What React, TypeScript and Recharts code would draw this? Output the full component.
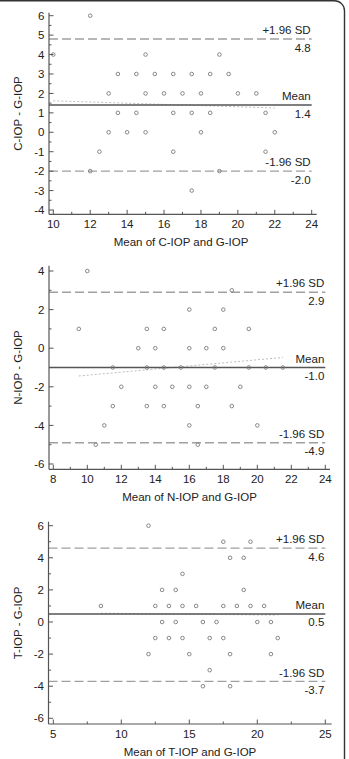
import React from 'react';
import { ComposedChart, Scatter, XAxis, YAxis, ReferenceLine } from 'recharts';

const FONT = '"Liberation Sans", Arial, Helvetica, sans-serif';
const TEXT = '#222';
const AXIS = '#555';

// ---- C-IOP vs G-IOP ----
const cMeans = [12, 10, 15, 19, 13.5, 14.5, 15.5, 16.5, 17.5, 18.5, 19.5, 13, 15, 16, 17, 18, 20, 21, 13.5, 14.5, 16.5, 17.5, 18.5, 21.5, 13, 14, 15, 18, 22, 12.5, 16.5, 21.5, 12, 19, 17.5];
const cDiffs = [6, 4, 4, 4, 3, 3, 3, 3, 3, 3, 3, 2, 2, 2, 2, 2, 2, 2, 1, 1, 1, 1, 1, 1, 0, 0, 0, 0, 0, -1, -1, -1, -2, -2, -3];
const cLimits = [4.8, 1.4, -2.0]; // +1.96 SD, mean, -1.96 SD
const cTrendX = [10, 22];
const cTrendY = [1.62, 1.25];
const cXMajor = [10, 12, 14, 16, 18, 20, 22, 24];
const cXMinor = [11, 13, 15, 17, 19, 21, 23];
const cYMajor = [-4, -3, -2, -1, 0, 1, 2, 3, 4, 5, 6];
const cYMinor = [-3.5, -2.5, -1.5, -0.5, 0.5, 1.5, 2.5, 3.5, 4.5, 5.5];

// ---- N-IOP vs G-IOP ----
const nMeans = [10, 18.5, 16, 18, 9.5, 13.5, 14.5, 17.5, 19.5, 13, 14, 16, 17, 18, 11.5, 13.5, 14.5, 15.5, 17.5, 19.5, 20.5, 21.5, 12, 14, 15, 16, 17, 19, 11.5, 13.5, 14.5, 16.5, 18.5, 11, 16, 20, 10.5, 16.5];
const nDiffs = [4, 3, 2, 2, 1, 1, 1, 1, 1, 0, 0, 0, 0, 0, -1, -1, -1, -1, -1, -1, -1, -1, -2, -2, -2, -2, -2, -2, -3, -3, -3, -3, -3, -4, -4, -4, -5, -5];
const nLimits = [2.9, -1.0, -4.9];
const nTrendX = [9.5, 21.5];
const nTrendY = [-1.44, -0.48];
const nXMajor = [8, 10, 12, 14, 16, 18, 20, 22, 24];
const nXMinor = [9, 11, 13, 15, 17, 19, 21, 23];
const nYMajor = [-6, -4, -2, 0, 2, 4];
const nYMinor = [-5, -3, -1, 1, 3];

// ---- T-IOP vs G-IOP ----
const tMeans = [12, 17.5, 19.5, 18, 19, 14.5, 13, 14, 19, 8.5, 12.5, 13.5, 14.5, 15.5, 17.5, 18.5, 19.5, 20.5, 13, 14, 16, 17, 20, 21, 12.5, 13.5, 14.5, 16.5, 17.5, 21.5, 12, 15, 18, 21, 16.5, 16, 18];
const tDiffs = [6, 5, 5, 4, 4, 3, 2, 2, 2, 1, 1, 1, 1, 1, 1, 1, 1, 1, 0, 0, 0, 0, 0, 0, -1, -1, -1, -1, -1, -1, -2, -2, -2, -2, -3, -4, -4];
const tLimits = [4.6, 0.5, -3.7];
const tTrendX = [8.5, 21.5];
const tTrendY = [0.55, 0.43];
const tXMajor = [5, 10, 15, 20, 25];
const tXMinor = [7.5, 12.5, 17.5, 22.5];
const tYMajor = [-6, -4, -2, 0, 2, 4, 6];
const tYMinor = [-5, -3, -1, 1, 3, 5];

type Panel = {
  top: number;
  height: number;
  margin: { top: number; right: number; bottom: number; left: number };
  xDomain: [number, number];
  yDomain: [number, number];
  xMajor: number[];
  xMinor: number[];
  yMajor: number[];
  yMinor: number[];
  means: number[];
  diffs: number[];
  limits: number[];
  trendX: number[];
  trendY: number[];
  xTitle: string;
  yTitle: string;
  xTitlePos: [number, number];
  yTitlePos: [number, number];
};

const panels: Panel[] = [
  {
    top: 0,
    height: 245,
    margin: { top: 12.8, right: 32.3, bottom: 0.7, left: 9 },
    xDomain: [9.767, 24.271],
    yDomain: [-4.221, 6.149],
    xMajor: cXMajor, xMinor: cXMinor, yMajor: cYMajor, yMinor: cYMinor,
    means: cMeans, diffs: cDiffs, limits: cLimits, trendX: cTrendX, trendY: cTrendY,
    xTitle: 'Mean of C-IOP and G-IOP',
    yTitle: 'C-IOP - G-IOP',
    xTitlePos: [181, 241.7],
    yTitlePos: [17.5, 113.5],
  },
  {
    top: 250,
    height: 250,
    margin: { top: 15.7, right: 19, bottom: 0.7, left: 9 },
    xDomain: [7.747, 24.276],
    yDomain: [-6.275, 4.275],
    xMajor: nXMajor, xMinor: nXMinor, yMajor: nYMajor, yMinor: nYMinor,
    means: nMeans, diffs: nDiffs, limits: nLimits, trendX: nTrendX, trendY: nTrendY,
    xTitle: 'Mean of N-IOP and G-IOP',
    yTitle: 'N-IOP - G-IOP',
    xTitlePos: [189.5, 496.7],
    yTitlePos: [18, 367.5],
  },
  {
    top: 505,
    height: 254,
    margin: { top: 16.7, right: 17.3, bottom: 5, left: 8.5 },
    xDomain: [4.647, 25.47],
    yDomain: [-6.355, 6.249],
    xMajor: tXMajor, xMinor: tXMinor, yMajor: tYMajor, yMinor: tYMinor,
    means: tMeans, diffs: tDiffs, limits: tLimits, trendX: tTrendX, trendY: tTrendY,
    xTitle: 'Mean of T-IOP and G-IOP',
    yTitle: 'T-IOP - G-IOP',
    xTitlePos: [190, 751.7],
    yTitlePos: [18, 623],
  },
];

const textStyle = { fontSize: 11.5, fontFamily: FONT, fill: TEXT };

const makeYTick = (major: number[]) => (props: any) => {
  const { x, y, payload } = props;
  const isMajor = major.includes(payload.value);
  return (
    <g>
      <line x1={x} y1={y} x2={x + (isMajor ? 4.5 : 2.5)} y2={y} stroke={AXIS} strokeWidth={1} />
      {isMajor && (
        <text x={x - 4.5} y={y} dy="0.36em" textAnchor="end" {...textStyle}>
          {String(payload.value)}
        </text>
      )}
    </g>
  );
};

const makeXTick = (major: number[]) => (props: any) => {
  const { x, y, payload } = props;
  const isMajor = major.includes(payload.value);
  return (
    <g>
      <line x1={x} y1={y} x2={x} y2={y - (isMajor ? 4.5 : 2.5)} stroke={AXIS} strokeWidth={1} />
      {isMajor && (
        <text x={x} y={y + 13.5} textAnchor="middle" {...textStyle}>
          {String(payload.value)}
        </text>
      )}
    </g>
  );
};

const makeLimitLabel = (above: string, below: string) => (props: any) => {
  const vb = props.viewBox || {};
  const xr = (vb.x ?? 0) + (vb.width ?? 0) - 1;
  const y = vb.y ?? 0;
  return (
    <g>
      <text x={xr} y={y - 4.8} textAnchor="end" {...textStyle}>{above}</text>
      <text x={xr} y={y + 12.5} textAnchor="end" {...textStyle}>{below}</text>
    </g>
  );
};

const OpenCircle = (p: any) => (
  <circle cx={p.cx} cy={p.cy} r={1.8} fill="none" stroke="#7a7a7a" strokeWidth={0.9} />
);

function BlandAltman({ panel }: { panel: Panel }) {
  const points = panel.means.map((m, i) => ({ x: m, y: panel.diffs[i] }));
  const xTicks = [...panel.xMajor, ...panel.xMinor].sort((a, b) => a - b);
  const yTicks = [...panel.yMajor, ...panel.yMinor].sort((a, b) => a - b);
  const [upper, mean, lower] = panel.limits;
  const x0 = panel.xDomain[0];
  const xEnd = panel.xMajor[panel.xMajor.length - 1];
  return (
    <div style={{ position: 'absolute', left: 0, top: panel.top }}>
      <ComposedChart width={349} height={panel.height} margin={panel.margin}>
        <XAxis
          type="number"
          dataKey="x"
          domain={panel.xDomain}
          allowDataOverflow
          ticks={xTicks}
          interval={0}
          tickSize={0}
          tickMargin={0}
          tickLine={false}
          tick={makeXTick(panel.xMajor)}
          axisLine={{ stroke: AXIS, strokeWidth: 1.2 }}
          height={30}
        />
        <YAxis
          type="number"
          dataKey="y"
          domain={panel.yDomain}
          allowDataOverflow
          ticks={yTicks}
          interval={0}
          tickSize={0}
          tickMargin={0}
          tickLine={false}
          tick={makeYTick(panel.yMajor)}
          axisLine={{ stroke: AXIS, strokeWidth: 1.2 }}
          width={40}
        />
        <ReferenceLine
          segment={[
            { x: panel.trendX[0], y: panel.trendY[0] },
            { x: panel.trendX[1], y: panel.trendY[1] },
          ]}
          stroke="#bdbdbd"
          strokeWidth={1}
          strokeDasharray="2 2"
        />
        <ReferenceLine
          segment={[{ x: x0, y: upper }, { x: xEnd, y: upper }]}
          stroke="#a0a0a0"
          strokeWidth={1.3}
          strokeDasharray="9 4"
          label={makeLimitLabel('+1.96 SD', upper.toFixed(1))}
        />
        <ReferenceLine
          segment={[{ x: x0, y: lower }, { x: xEnd, y: lower }]}
          stroke="#a0a0a0"
          strokeWidth={1.3}
          strokeDasharray="9 4"
          label={makeLimitLabel('-1.96 SD', lower.toFixed(1))}
        />
        <ReferenceLine
          segment={[{ x: x0, y: mean }, { x: xEnd, y: mean }]}
          stroke="#555"
          strokeWidth={1.5}
          label={makeLimitLabel('Mean', mean.toFixed(1))}
        />
        <Scatter data={points} dataKey="y" shape={OpenCircle} isAnimationActive={false} />
      </ComposedChart>
    </div>
  );
}

export default function App() {
  return (
    <div
      style={{
        position: 'absolute',
        left: 0,
        top: 0,
        width: 349,
        height: 759,
        background: '#fff',
        overflow: 'hidden',
      }}
    >
      {panels.map((p, i) => (
        <BlandAltman key={i} panel={p} />
      ))}
      <svg
        width={349}
        height={759}
        style={{ position: 'absolute', left: 0, top: 0, pointerEvents: 'none' }}
      >
        <path
          d="M -2 0.7 H 334.5 A 10 10 0 0 1 344.5 10.7 V 762"
          fill="none"
          stroke="#333"
          strokeWidth={1.4}
        />
        {panels.map((p, i) => (
          <g key={i}>
            <text x={p.xTitlePos[0]} y={p.xTitlePos[1]} dy="0.36em" textAnchor="middle" {...textStyle}>
              {p.xTitle}
            </text>
            <text
              x={p.yTitlePos[0]}
              y={p.yTitlePos[1]}
              dy="0.36em"
              textAnchor="middle"
              transform={`rotate(-90 ${p.yTitlePos[0]} ${p.yTitlePos[1]})`}
              {...textStyle}
            >
              {p.yTitle}
            </text>
          </g>
        ))}
      </svg>
    </div>
  );
}
